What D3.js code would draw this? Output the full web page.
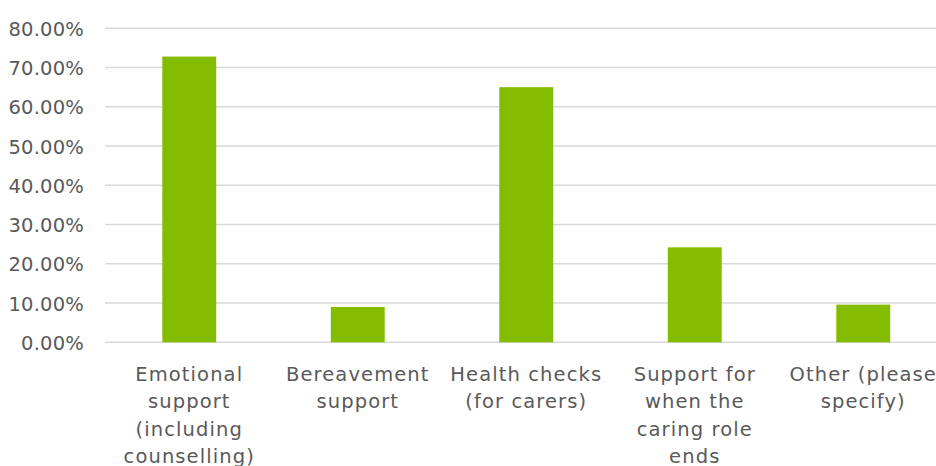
<!DOCTYPE html>
<html>
<head>
<meta charset="utf-8">
<script src="https://cdn.jsdelivr.net/npm/d3@7"></script>
<style>
  html, body { margin: 0; padding: 0; background: #fff; }
  svg { display: block; }
  text { font-family: "DejaVu Sans", sans-serif; fill: #595959; }
</style>
</head>
<body>
<svg id="chart" width="936" height="466"></svg>
<script>
const categories = [
  "Emotional support (including counselling)",
  "Bereavement support",
  "Health checks (for carers)",
  "Support for when the caring role ends",
  "Other (please specify)"
];
const categoryLines = [
  ["Emotional", "support", "(including", "counselling)"],
  ["Bereavement", "support"],
  ["Health checks", "(for carers)"],
  ["Support for", "when the", "caring role", "ends"],
  ["Other (please", "specify)"]
];
const values = [0.728, 0.090, 0.650, 0.242, 0.096];
const yTicks = [0, 0.1, 0.2, 0.3, 0.4, 0.5, 0.6, 0.7, 0.8];

const svg = d3.select("#chart");
const margin = { left: 105, top: 28.3, bottom: 342.3 };
const plotRight = 947.5;

const x = d3.scaleBand().domain(categories).range([margin.left, plotRight])
  .paddingInner(0.68).paddingOuter(0.34);
const y = d3.scaleLinear().domain([0, 0.8]).range([margin.bottom, margin.top]);

// gridlines
svg.append("g")
  .selectAll("line").data(yTicks).join("line")
  .attr("x1", margin.left).attr("x2", plotRight)
  .attr("y1", d => y(d)).attr("y2", d => y(d))
  .attr("stroke", "#d9d9d9").attr("stroke-width", 1.5);

// y axis labels
const yAxis = d3.axisLeft(y).tickValues(yTicks).tickSize(0).tickPadding(0)
  .tickFormat(d => d3.format(".2%")(d));
const gy = svg.append("g").attr("transform", "translate(84,0)").call(yAxis);
gy.select(".domain").remove();
gy.selectAll("text").attr("font-size", 19.5).attr("fill", "#595959")
  .attr("font-family", "DejaVu Sans, sans-serif").attr("dy", "0.36em")
  .attr("letter-spacing", 0.2);

// bars
svg.append("g")
  .selectAll("rect").data(values).join("rect")
  .attr("x", (d, i) => x(categories[i]))
  .attr("width", x.bandwidth())
  .attr("y", d => y(d))
  .attr("height", d => y(0) - y(d))
  .attr("fill", "#84bc00");

// category labels
const lab = svg.append("g").selectAll("text").data(categoryLines).join("text")
  .attr("text-anchor", "middle")
  .attr("font-size", 19.5)
  .attr("letter-spacing", 1.1)
  .attr("transform", (d, i) => `translate(${x(categories[i]) + x.bandwidth() / 2},0)`);
lab.selectAll("tspan").data(d => d).join("tspan")
  .attr("x", 0)
  .attr("y", (d, j) => 381 + j * 27.4)
  .text(d => d);
</script>
</body>
</html>
